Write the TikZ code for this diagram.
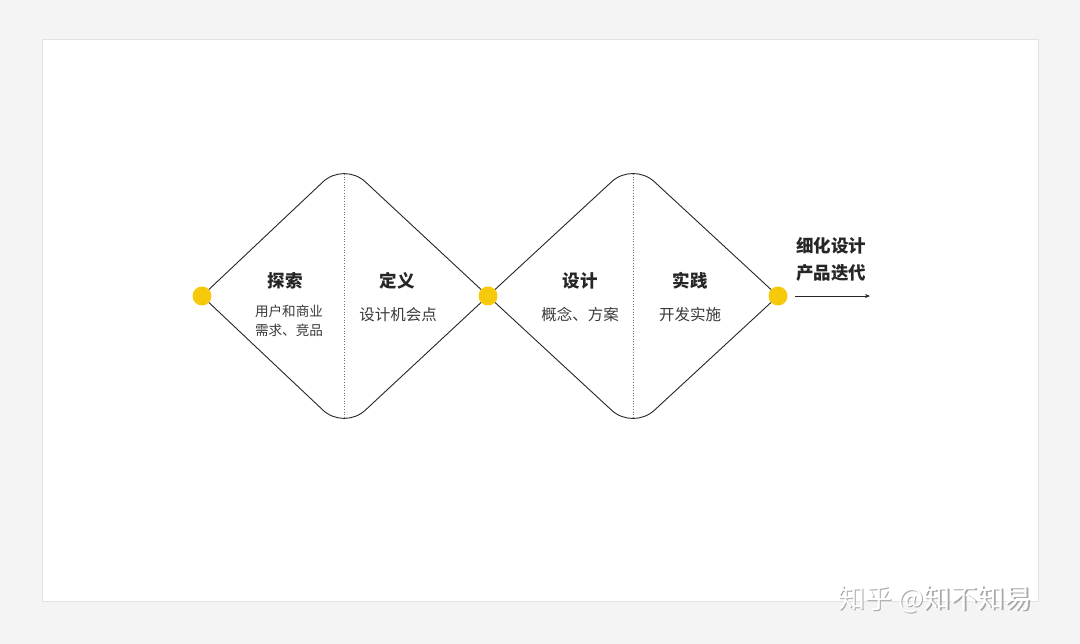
\documentclass[tikz,border=0pt]{standalone}
\usepackage{fontspec}
\setmainfont{Noto Sans CJK SC}
\usetikzlibrary{arrows.meta}
\definecolor{bgc}{HTML}{F4F4F4}
\definecolor{cardline}{HTML}{E2E2E2}
\definecolor{dotc}{HTML}{F6CA0A}
\definecolor{titlec}{HTML}{262626}
\definecolor{subc}{HTML}{3A3A3A}
\definecolor{wmc}{HTML}{A8A8A8}
\tikzset{
  x=1pt, y=-1pt,
  dotnode/.style={circle, fill=dotc, inner sep=0pt, minimum size=19pt},
  titletext/.style={font=\fontsize{17.5}{20}\selectfont\bfseries, text=titlec, inner sep=0pt},
  subtext/.style={font=\fontsize{15.5}{19.5}\selectfont, text=subc, inner sep=0pt, align=center},
  smalltext/.style={font=\fontsize{13.6}{19.5}\selectfont, text=subc, inner sep=0pt, align=center},
  edge/.style={draw=black!85, line width=0.9pt, rounded corners=29pt},
  divider/.style={draw=black!55, line width=0.7pt, dotted},
}
\begin{document}
\begin{tikzpicture}
\fill[bgc] (0,0) rectangle (1080,644);
\useasboundingbox (0,0) rectangle (1080,644);
\filldraw[fill=white, draw=cardline, line width=1pt] (42,40) rectangle (1038,601);

% vertices
\coordinate (L1) at (202,296);
\coordinate (T1) at (344,162);
\coordinate (B1) at (344,430);
\coordinate (M) at (488,296);
\coordinate (T2) at (633,162);
\coordinate (B2) at (633,430);
\coordinate (R2) at (778,296);

% diamond outlines
\draw[edge] (L1) -- (T1) -- (M);
\draw[edge] (L1) -- (B1) -- (M);
\draw[edge] (M) -- (T2) -- (R2);
\draw[edge] (M) -- (B2) -- (R2);

% dividers
\coordinate (D1t) at (344,174);
\coordinate (D1b) at (344,419);
\coordinate (D2t) at (633,174);
\coordinate (D2b) at (633,419);
\draw[divider] (D1t) -- (D1b);
\draw[divider] (D2t) -- (D2b);

% dots
\node[dotnode] (dot1) at (L1) {};
\node[dotnode] (dot2) at (M) {};
\node[dotnode] (dot3) at (R2) {};

% texts
\node[titletext] (t1) at (285,281) {探索};
\node[smalltext] (s1) at (289,321) {用户和商业\\需求、竞品};
\node[titletext] (t2) at (397,281) {定义};
\node[subtext] (s2) at (398,315) {设计机会点};
\node[titletext] (t3) at (580,281) {设计};
\node[subtext] (s3) at (580,315) {概念、方案};
\node[titletext] (t4) at (690,281) {实践};
\node[subtext] (s4) at (690,315) {开发实施};
\node[titletext] (t5) at (831,246) {细化设计};
\node[titletext] (t6) at (831,273) {产品迭代};

% arrow
\coordinate (A1) at (795,296);
\coordinate (A2) at (870,296);
\draw[black!85, line width=0.9pt, -{Stealth[length=5pt,width=4pt]}] (A1) -- (A2);

% watermark
\node[font=\fontsize{27}{30}\selectfont, text=wmc, inner sep=0pt] (wms) at (936.5,600.5) {知乎 @知不知易};
\node[font=\fontsize{27}{30}\selectfont, text=white, inner sep=0pt] (wm) at (935,599) {知乎 @知不知易};
\end{tikzpicture}
\end{document}
